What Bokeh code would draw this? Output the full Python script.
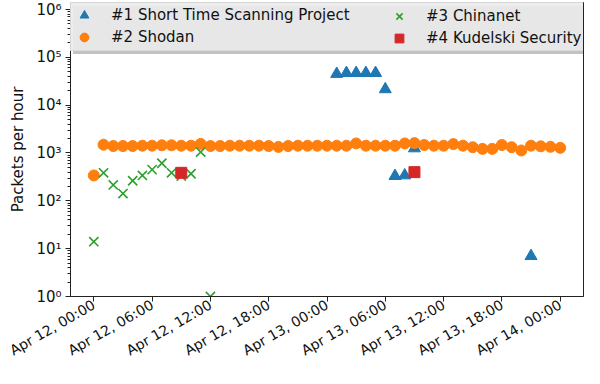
import math
import pandas as pd
from bokeh.plotting import figure
from bokeh.models import (Range1d, FixedTicker, CustomJSTickFormatter,
                          DatetimeTickFormatter, Legend, LegendItem)
from bokeh.embed import file_html
from bokeh.resources import INLINE

# ---------------- data ----------------
start = pd.Timestamp("2021-04-12 00:00")

stsp_hours = [25, 26, 27, 28, 29, 30, 31, 32, 33, 45]
stsp_pph = [45000, 47000, 47000, 47000, 47000, 21500, 330, 340, 1250, 7]

shodan_hours = list(range(0, 49))
shodan_pph = [340, 1490, 1400, 1400, 1400, 1420, 1420, 1450, 1450, 1420,
              1420, 1550, 1400, 1400, 1420, 1420, 1420, 1420, 1400, 1340,
              1400, 1420, 1420, 1420, 1420, 1420, 1420, 1585, 1420, 1420,
              1420, 1420, 1585, 1610, 1470, 1420, 1420, 1535, 1420, 1320,
              1220, 1220, 1470, 1320, 1130, 1420, 1380, 1350, 1280]

chinanet_hours = [0, 1, 2, 3, 4, 5, 6, 7, 8, 9, 10, 11, 12]
chinanet_pph = [14, 385, 215, 142, 263, 340, 449, 611, 385, 331, 368, 1047, 1.0]

kudelski_hours = [9, 33]
kudelski_pph = [385, 398]

labels = ["#1 Short Time Scanning Project", "#2 Shodan",
          "#3 Chinanet", "#4 Kudelski Security"]
tick_hours = [0, 6, 12, 18, 24, 30, 36, 42, 48]
decades = [0, 1, 2, 3, 4, 5, 6]


def to_time(hours):
    return [start + pd.Timedelta(hours=h) for h in hours]


FONT = "DejaVu Sans"

p = figure(width=584, height=368, x_axis_type="datetime", y_axis_type="log",
           x_range=Range1d(start - pd.Timedelta(hours=2.4),
                           start + pd.Timedelta(hours=50.4)),
           y_range=Range1d(1, 10 ** 6.1463),
           output_backend="svg", toolbar_location=None,
           min_border_left=70, min_border_right=1,
           min_border_top=2, min_border_bottom=72)
p.background_fill_color = "white"
p.border_fill_color = "white"
p.outline_line_color = "#222222"
p.outline_line_width = 1
p.xgrid.visible = False
p.ygrid.visible = False

r1 = p.scatter(to_time(stsp_hours), stsp_pph, marker="triangle", size=12,
               fill_color="#1f77b4", line_color="#1f77b4")
r2 = p.scatter(to_time(shodan_hours), shodan_pph, marker="circle", size=11,
               fill_color="#ff7f0e", line_color="#ff7f0e")
r3 = p.scatter(to_time(chinanet_hours), chinanet_pph, marker="x", size=13,
               line_color="#2ca02c", line_width=1.6)
r4 = p.scatter(to_time(kudelski_hours), kudelski_pph, marker="square", size=11,
               fill_color="#d62728", line_color="#d62728")
# invisible renderer, only used to draw the legend's shadow box
shadow_r = p.scatter(x=[], y=[], marker="circle", size=1, alpha=0)

# ---------------- axes ----------------
for ax in (p.xaxis[0], p.yaxis[0]):
    ax.axis_line_color = "#222222"
    ax.major_tick_line_color = "#222222"
    ax.minor_tick_line_color = "#222222"
    ax.major_tick_in = 0
    ax.major_tick_out = 5
    ax.minor_tick_in = 0
    ax.major_label_text_font = FONT
    ax.major_label_text_color = "#111111"

p.yaxis.minor_tick_out = 3
p.yaxis.major_label_text_font_size = "15px"
p.yaxis.major_label_standoff = 4
p.yaxis.ticker = FixedTicker(
    ticks=[10.0 ** d for d in decades],
    minor_ticks=[m * 10.0 ** d for d in decades[:-1] for m in range(2, 10)])
p.yaxis.formatter = CustomJSTickFormatter(code="""
const e = Math.round(Math.log10(tick));
const s = '\u2070\u00b9\u00b2\u00b3\u2074\u2075\u2076\u2077\u2078\u2079';
return '10' + String(e).split('').map(c => s[parseInt(c)]).join('');
""")
p.yaxis.axis_label = "Packets per hour"
p.yaxis.axis_label_text_font = FONT
p.yaxis.axis_label_text_font_size = "15px"
p.yaxis.axis_label_text_font_style = "normal"
p.yaxis.axis_label_text_color = "#111111"
p.yaxis.axis_label_standoff = 6

fmt = "%b %d, %H:%M"
p.xaxis.minor_tick_out = 0
p.xaxis.major_label_text_font_size = "14px"
p.xaxis.major_label_standoff = 2
p.xaxis.major_label_orientation = math.pi / 6
p.xaxis.ticker = FixedTicker(
    ticks=[(start + pd.Timedelta(hours=h)).value / 1e6 for h in tick_hours])
p.xaxis.formatter = DatetimeTickFormatter(
    microseconds=fmt, milliseconds=fmt, seconds=fmt, minsec=fmt, minutes=fmt,
    hourmin=fmt, hours=fmt, days=fmt, months=fmt, years=fmt)

# ---------------- legend ----------------
common = dict(orientation="vertical", padding=2, spacing=0, margin=0,
              glyph_width=22, glyph_height=22, label_height=22,
              label_standoff=16, label_text_font=FONT,
              label_text_font_size="15px")

legS = Legend(items=[LegendItem(label=" ", renderers=[shadow_r]),
                     LegendItem(label=" ", renderers=[shadow_r])],
              location=(3, 242), label_width=471, label_text_alpha=0,
              background_fill_color="#9a9a9a", background_fill_alpha=0.6,
              border_line_alpha=0, **common)
legA = Legend(items=[LegendItem(label=labels[0], renderers=[r1]),
                     LegendItem(label=labels[1], renderers=[r2])],
              location=(0, 245), label_width=471, label_text_color="#111111",
              background_fill_color="#ebebeb", background_fill_alpha=0.9,
              border_line_color="#cfcfcf", border_line_width=1, **common)
legB = Legend(items=[LegendItem(label=labels[2], renderers=[r3]),
                     LegendItem(label=labels[3], renderers=[r4])],
              location=(316, 245), label_width=60, label_text_color="#111111",
              background_fill_alpha=0, border_line_alpha=0, **common)
p.add_layout(legS, "center")
p.add_layout(legA, "center")
p.add_layout(legB, "center")

open("out.html", "w").write(file_html(p, INLINE))
